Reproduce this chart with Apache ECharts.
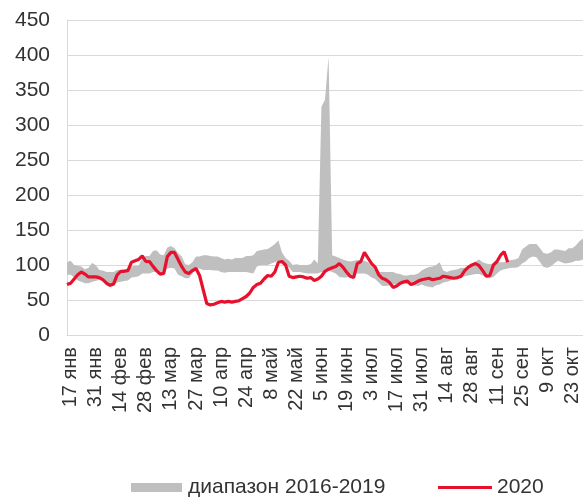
<!DOCTYPE html>
<html>
<head>
<meta charset="utf-8">
<script src="https://cdn.jsdelivr.net/npm/echarts@6/dist/echarts.min.js"></script>
<style>
  html, body { margin: 0; padding: 0; background: #fff; }
  #main { width: 583px; height: 501px; }
</style>
</head>
<body>
<div id="main"></div>
<script>
// one point every 2 days, starting 15 Jan (2020 calendar)
const startDay = 15;
const stepDays = 2;
const monthNames = ["янв", "фев", "мар", "апр", "май", "июн", "июл", "авг", "сен", "окт", "ноя", "дек"];

// range 2016-2019: lower and upper bound
const rangeMin = [
  86, 86, 82, 78, 76, 74, 74, 76, 77, 79, 77, 71, 69, 70, 75, 76, 77, 78, 82, 83,
  84, 88, 88, 88, 90, 90, 86, 86, 95, 96, 95, 86, 84, 81, 81, 88, 95, 95, 93, 93,
  93, 92, 92, 90, 89, 90, 90, 90, 90, 90, 90, 89, 88, 98, 100, 100, 100, 102, 104, 106,
  104, 100, 96, 90, 90, 90, 89, 88, 88, 88, 88, 90, 90, 92, 90, 88, 83, 82, 82, 84,
  86, 88, 88, 88, 86, 82, 80, 75, 70, 70, 71, 72, 72, 72, 73, 73, 71, 71, 70, 72,
  70, 69, 68, 71, 72, 75, 76, 78, 80, 81, 82, 84, 85, 86, 87, 87, 85, 82, 81, 83,
  88, 92, 94, 95, 96, 96, 97, 102, 105, 110, 112, 111, 104, 97, 96, 98, 102, 106, 104, 102,
  103, 104, 106, 106, 108
];
const rangeMax = [
  104, 106, 100, 99, 98, 94, 96, 103, 100, 93, 92, 90, 90, 90, 93, 93, 94, 95, 98, 99,
  99, 110, 113, 113, 120, 121, 115, 114, 125, 127, 124, 117, 112, 101, 100, 104, 112, 112, 114, 114,
  113, 112, 112, 110, 108, 109, 108, 110, 110, 110, 113, 113, 114, 120, 121, 122, 123, 126, 130, 135,
  118, 110, 106, 100, 101, 100, 100, 100, 101, 108, 102, 326, 336, 398, 114, 112, 110, 108, 106, 105,
  106, 107, 106, 106, 104, 98, 95, 90, 90, 90, 90, 90, 88, 87, 85, 85, 86, 86, 88, 92,
  95, 97, 98, 100, 104, 92, 90, 92, 93, 94, 96, 96, 97, 99, 105, 108, 104, 102, 101, 102,
  104, 104, 104, 106, 107, 108, 110, 122, 126, 130, 130, 130, 124, 117, 116, 118, 122, 122, 121, 120,
  124, 124, 128, 134, 138
];

// 2020
const values2020 = [
  72, 74, 80, 86, 90, 87, 83, 83, 83, 82, 79, 74, 71, 73, 86, 91, 91, 92, 104, 106,
  108, 113, 105, 105, 98, 92, 87, 88, 112, 118, 118, 108, 98, 90, 88, 92, 95, 85, 65, 45,
  43, 44, 46, 48, 47, 48, 47, 48, 49, 52, 55, 60, 68, 72, 74, 80, 85, 84, 90, 104,
  105, 100, 84, 82, 83, 84, 83, 81, 82, 78, 80, 84, 91, 94, 96, 98, 102, 97, 90, 84,
  82, 102, 105, 118, 110, 102, 97, 86, 81, 79, 75, 68, 70, 74, 76, 77, 72, 74, 77, 79,
  80, 81, 79, 80, 81, 84, 83, 82, 81, 82, 84, 92, 97, 100, 102, 99, 92, 84, 85, 100,
  105, 114, 119, 104
];

const yTicks = { min: 0, max: 450, interval: 50 };

const dates = rangeMin.map((_, i) => {
  const d = new Date(2020, 0, startDay + i * stepDays);
  return d.getDate() + " " + monthNames[d.getMonth()];
});
const rangeSpan = rangeMax.map((v, i) => v - rangeMin[i]);

const font = "Liberation Sans, Arial, sans-serif";
const textColor = "#333333";

const chart = echarts.init(document.getElementById("main"));
chart.setOption({
  animation: false,
  grid: { left: 67, right: 0, top: 20, bottom: 166, containLabel: false },
  legend: [
    {
      data: [{ name: "диапазон 2016-2019", icon: "rect" }],
      left: 131,
      top: 477,
      itemWidth: 51,
      itemHeight: 9,
      itemGap: 5,
      textStyle: { fontFamily: font, fontSize: 21, color: textColor, padding: [0, 0, 0, 1] },
      padding: 0,
    },
    {
      data: [{ name: "2020", icon: "rect" }],
      left: 438,
      top: 477,
      itemWidth: 54,
      itemHeight: 3,
      textStyle: { fontFamily: font, fontSize: 21, color: textColor },
      padding: 0,
    },
  ],
  xAxis: {
    type: "category",
    data: dates,
    boundaryGap: false,
    axisLine: { lineStyle: { color: "#d9d9d9", width: 1 } },
    axisTick: { show: false },
    axisLabel: {
      interval: (idx) => idx % 7 === 1,
      rotate: 90,
      margin: 12,
      fontFamily: font,
      fontSize: 20,
      color: textColor,
    },
    splitLine: { show: false },
  },
  yAxis: {
    type: "value",
    min: yTicks.min,
    max: yTicks.max,
    interval: yTicks.interval,
    axisLine: { show: true, lineStyle: { color: "#d9d9d9" } },
    axisTick: { show: false },
    axisLabel: { margin: 17, fontFamily: font, fontSize: 21, color: textColor },
    splitLine: { lineStyle: { color: "#d9d9d9", width: 1 } },
  },
  series: [
    {
      name: "min",
      type: "line",
      stack: "band",
      data: rangeMin,
      symbol: "none",
      lineStyle: { width: 0, opacity: 0 },
      silent: true,
    },
    {
      name: "диапазон 2016-2019",
      type: "line",
      stack: "band",
      data: rangeSpan,
      symbol: "none",
      lineStyle: { width: 0, opacity: 0 },
      itemStyle: { color: "#bfbfbf" },
      areaStyle: { color: "#bfbfbf", opacity: 1 },
    },
    {
      name: "2020",
      type: "line",
      data: values2020,
      symbol: "none",
      itemStyle: { color: "#e8112d" },
      lineStyle: { color: "#e8112d", width: 3.2 },
      z: 5,
    },
  ],
});
</script>
</body>
</html>
